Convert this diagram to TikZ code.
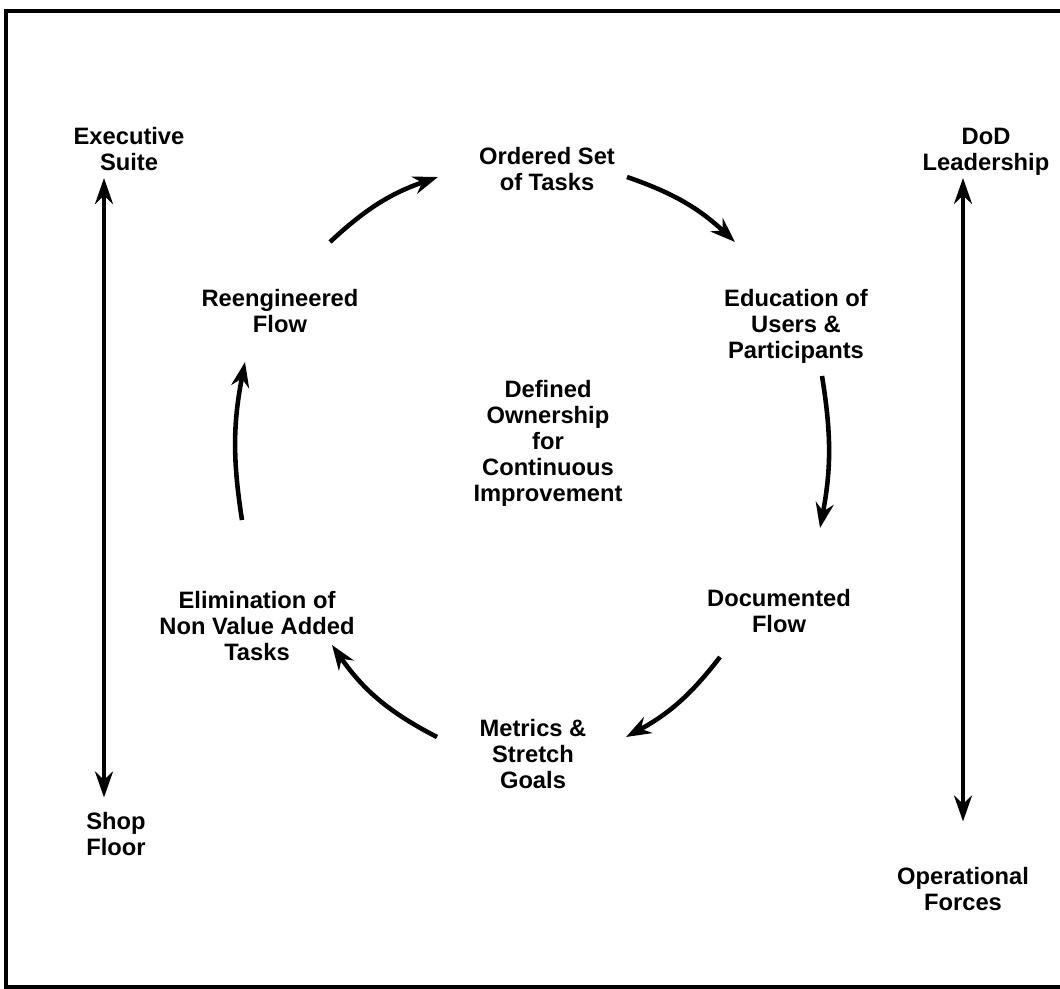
\documentclass[tikz,border=0pt]{standalone}
\usepackage{fontspec}
\setmainfont{Liberation Sans}
\usetikzlibrary{positioning}
\usetikzlibrary{arrows.meta}

\begin{document}
\begin{tikzpicture}[
        x=0.02cm, y=-0.02cm,
        txt/.style={align=center, font=\bfseries\fontsize{13.5}{14.8}\selectfont, inner sep=0pt},
        arrow/.style={line width=2.6pt, -{Stealth[length=0.5cm, width=0.36cm]}},
        twoway/.style={line width=2.2pt, {Stealth[length=0.52cm, width=0.36cm]}-{Stealth[length=0.52cm, width=0.36cm]}},
    ]
        \useasboundingbox (0,0) rectangle (1060,989);
        \draw[line width=2.2pt] (1060,11) -- (6,11) -- (6,987) -- (1060,987);

        \node[txt] (exec) at (129,149) {Executive\\Suite};
        \node[txt] (shop) at (116,834) {Shop\\Floor};
        \node[txt] (dod) at (986,152) {DoD\\Leadership};
        \node[txt] (ops) at (963,889) {Operational\\Forces};

        \node[txt] (tasks) at (547,169) {Ordered Set\\of Tasks};
        \node[txt] (edu) at (796,326) {Education of\\Users \&\\Participants};
        \node[txt] (doc) at (779,611) {Documented\\Flow};
        \node[txt] (metrics) at (533,754) {Metrics \&\\Stretch\\Goals};
        \node[txt] (elim) at (257,626) {Elimination of\\Non Value Added\\Tasks};
        \node[txt] (reeng) at (280,311) {Reengineered\\Flow};
        \node[txt] (owner) at (548,443) {Defined\\Ownership\\for\\Continuous\\Improvement};

        \coordinate (a1) at (330,242);
        \coordinate (a2) at (438,177);
        \coordinate (b1) at (627,177);
        \coordinate (b2) at (735,242);
        \coordinate (c1) at (822,376);
        \coordinate (c2) at (820,528);
        \coordinate (d1) at (720,657);
        \coordinate (d2) at (626,737);
        \coordinate (e1) at (437,737);
        \coordinate (e2) at (332,645);
        \coordinate (f1) at (242,520);
        \coordinate (f2) at (245,362);

        \draw[arrow] (a1) to[bend left=12] (a2);
        \draw[arrow] (b1) to[bend left=12] (b2);
        \draw[arrow] (c1) to[bend left=10] (c2);
        \draw[arrow] (d1) to[bend left=12] (d2);
        \draw[arrow] (e1) to[bend left=14] (e2);
        \draw[arrow] (f1) to[bend left=10] (f2);

        \draw[twoway] ([xshift=-0.5cm, yshift=-0.14cm]exec.south) -- ([xshift=-0.24cm, yshift=0.29cm]shop.north);
        \draw[twoway] ([xshift=-0.46cm, yshift=-0.04cm]dod.south) -- ([yshift=0.91cm]ops.north);
\end{tikzpicture}
\end{document}
